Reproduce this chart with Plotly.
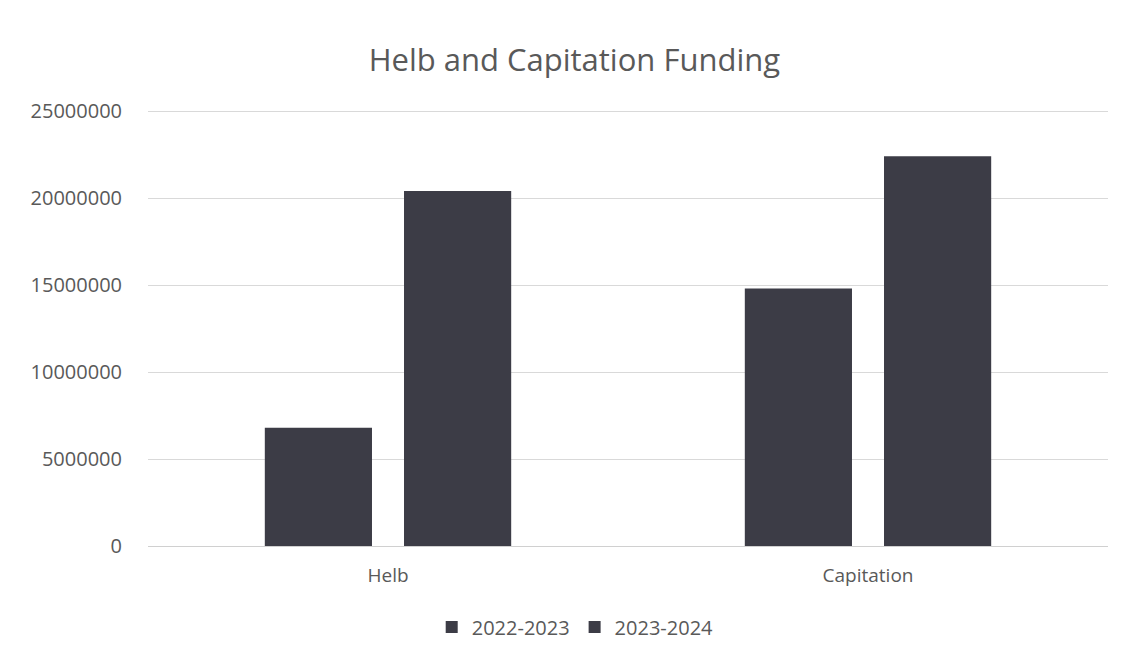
import plotly.graph_objects as go

categories = ["Helb", "Capitation"]
series_names = ["2022-2023", "2023-2024"]
values_2022 = [6800000, 14800000]
values_2023 = [20400000, 22400000]
tick_vals = [0, 5000000, 10000000, 15000000, 20000000, 25000000]
tick_text = ["0", "5000000", "10000000", "15000000", "20000000", "25000000"]

bar_color = "#3c3c46"
text_color = "#595959"
font_family = "Open Sans, Liberation Sans, sans-serif"

fig = go.Figure()
for name, vals in zip(series_names, [values_2022, values_2023]):
    fig.add_trace(go.Bar(x=categories, y=vals, name=name,
                         marker=dict(color=bar_color, line=dict(width=0))))

fig.update_layout(
    width=1124, height=658,
    paper_bgcolor="white", plot_bgcolor="white",
    margin=dict(l=148, r=16, t=109, b=112),
    barmode="group", bargap=0.42, bargroupgap=0.23,
    title=dict(text="Helb and Capitation Funding", x=0.511, xanchor="center",
               y=1 - 60/658, yanchor="middle",
               font=dict(family=font_family, size=31, color=text_color)),
    font=dict(family=font_family, color=text_color),
    showlegend=True,
    legend=dict(orientation="h", x=0.445, xanchor="center", y=-(627-546)/437, yanchor="middle",
                font=dict(family=font_family, size=20, color=text_color),
                itemwidth=30, traceorder="normal"),
)
fig.update_yaxes(range=[0, 25115000], tickvals=tick_vals, ticktext=tick_text,
                 showgrid=True, gridcolor="#d9d9d9", gridwidth=1,
                 zeroline=True, zerolinecolor="#d0d0d0", zerolinewidth=1,
                 showline=False, ticks="", ticklabelstandoff=25,
                 tickfont=dict(family=font_family, size=20, color=text_color))
fig.update_xaxes(showgrid=False, showline=False, ticks="",
                 tickfont=dict(family=font_family, size=19, color=text_color),
                 ticklabelstandoff=16)

fig.write_html("out.html")
